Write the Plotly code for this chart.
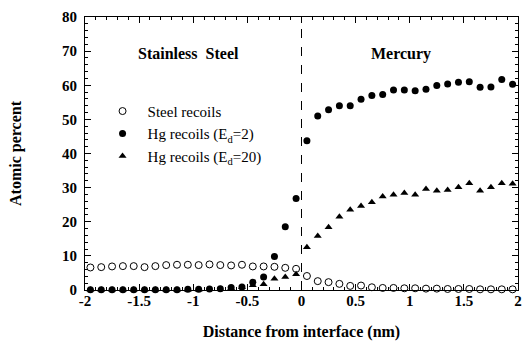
import plotly.graph_objects as go

x = [round(-1.95 + 0.1 * i, 2) for i in range(40)]

steel = [6.6, 6.7, 6.9, 7.0, 7.0, 6.7, 7.0, 7.3, 7.4, 7.4,
         7.3, 7.5, 7.3, 7.2, 7.4, 6.9, 6.9, 6.8, 6.5, 6.2,
         4.1, 2.6, 2.3, 1.8, 1.2, 1.3, 0.8, 0.6, 0.6, 0.5,
         0.5, 0.4, 0.4, 0.3, 0.3, 0.3, 0.2, 0.2, 0.2, 0.2]

hg2 = [0.1, 0.1, 0.1, 0.1, 0.1, 0.1, 0.1, 0.1, 0.1, 0.2,
       0.2, 0.3, 0.4, 0.7, 0.9, 2.3, 3.8, 9.8, 18.5, 26.8,
       43.7, 51.0, 52.8, 54.0, 54.0, 55.9, 57.0, 57.3, 58.6, 58.6,
       58.4, 58.8, 59.9, 60.4, 60.9, 61.0, 59.4, 59.5, 61.7, 60.3]

hg20 = [0.05, 0.05, 0.05, 0.05, 0.05, 0.05, 0.05, 0.05, 0.05, 0.1,
        0.1, 0.2, 0.3, 0.5, 0.8, 1.4, 1.7, 3.3, 3.8, 4.6,
        12.5, 15.8, 18.4, 21.5, 23.5, 24.6, 25.7, 27.4, 27.9, 28.4,
        27.9, 29.6, 29.1, 29.3, 30.1, 31.3, 29.1, 30.1, 31.3, 31.1]

x_ticks = [-2, -1.5, -1, -0.5, 0, 0.5, 1, 1.5, 2]
x_tick_text = ["-2", "-1.5", "-1", "-0.5", "0", "0.5", "1", "1.5", "2"]
y_ticks = [0, 10, 20, 30, 40, 50, 60, 70, 80]

serif = "Liberation Serif, Times New Roman, serif"

fig = go.Figure()
fig.add_trace(go.Scatter(x=x, y=steel, mode="markers", name="Steel recoils",
                         marker=dict(symbol="circle-open", size=7, color="black", line=dict(width=1, color="black")),
                         cliponaxis=False))
fig.add_trace(go.Scatter(x=x, y=hg2, mode="markers", name="Hg recoils (E<sub>d</sub>=2)",
                         marker=dict(symbol="circle", size=7, color="black"), cliponaxis=False))
fig.add_trace(go.Scatter(x=x, y=hg20, mode="markers", name="Hg recoils (E<sub>d</sub>=20)",
                         marker=dict(symbol="triangle-up", size=7, color="black"), cliponaxis=False))

fig.add_shape(type="line", x0=0, x1=0, y0=0, y1=80, xref="x", yref="y",
              line=dict(color="black", width=1, dash="dash"))

fig.add_annotation(x=-1.04, y=69.3, xref="x", yref="y", text="<b>Stainless  Steel</b>",
                   showarrow=False, font=dict(family=serif, size=16, color="black"))
fig.add_annotation(x=0.92, y=69.3, xref="x", yref="y", text="<b>Mercury</b>",
                   showarrow=False, font=dict(family=serif, size=16, color="black"))

axis_common = dict(showgrid=False, zeroline=False, showline=True, linecolor="black", linewidth=1,
                   mirror="allticks", ticks="inside", ticklen=6, tickcolor="black", automargin=False,
                   ticklabeloverflow="allow",
                   tickfont=dict(family=serif, size=15, color="black"))

fig.update_xaxes(range=[-2, 2], tickvals=x_ticks,
                 ticktext=["<b>%s</b>" % t for t in x_tick_text],
                 minor=dict(dtick=0.1, ticks="inside", ticklen=3, tickcolor="black"),
                 ticklabelstandoff=-3,
                 title=dict(text="<b>Distance from interface (nm)</b>", font=dict(family=serif, size=16, color="black"),
                            standoff=17),
                 **axis_common)
fig.update_yaxes(range=[0, 80], tickvals=y_ticks,
                 ticktext=["<b>%d</b>" % v for v in y_ticks],
                 minor=dict(dtick=2, ticks="inside", ticklen=3, tickcolor="black"),
                 ticklabelstandoff=4,
                 title=dict(text="<b>Atomic percent</b>", font=dict(family=serif, size=16, color="black"),
                            standoff=36),
                 **axis_common)

fig.update_layout(width=522, height=342, margin=dict(l=85, r=4, t=17, b=52),
                  plot_bgcolor="white", paper_bgcolor="white",
                  legend=dict(x=0.029, y=0.715, xanchor="left", yanchor="top", bgcolor="rgba(0,0,0,0)",
                              font=dict(family=serif, size=15, color="black"), itemwidth=40,
                              tracegroupgap=2),
                  showlegend=True)

fig.write_html("out.html", config={"displayModeBar": False},
               post_script="document.body.style.margin='0';document.body.style.overflow='hidden';")
